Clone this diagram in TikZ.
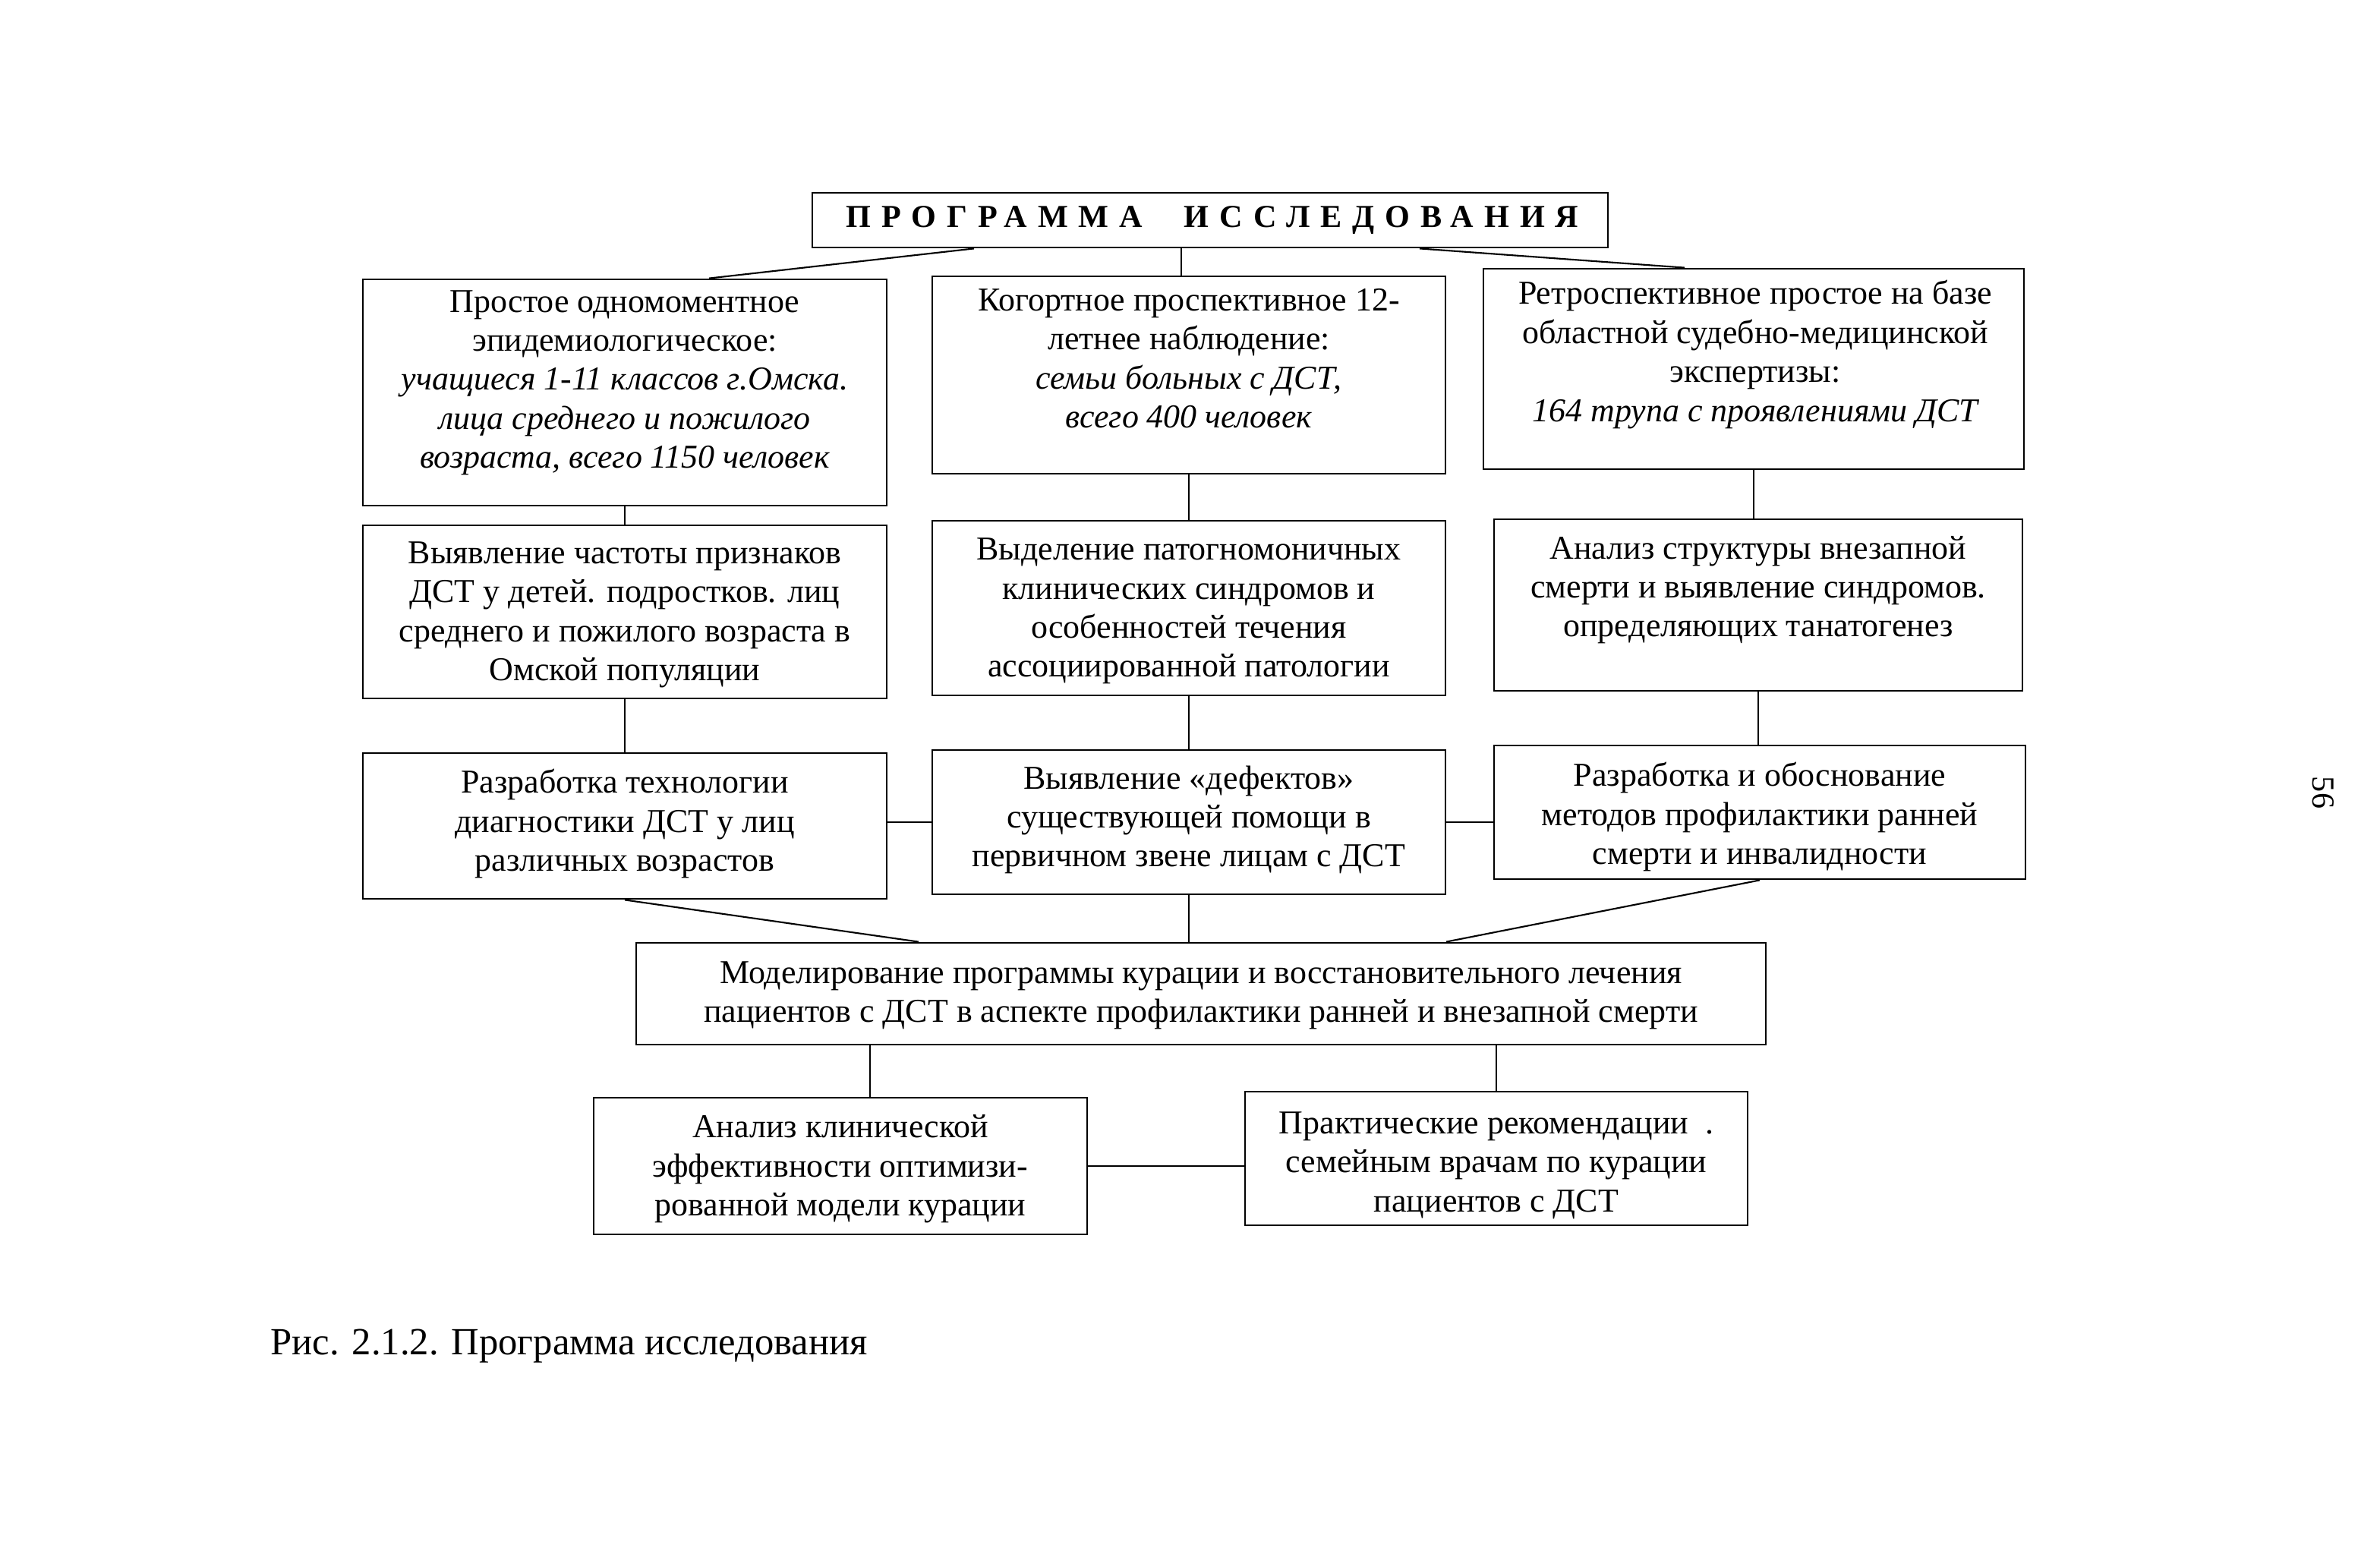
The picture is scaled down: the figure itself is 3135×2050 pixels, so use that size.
\documentclass[tikz,border=0pt]{standalone}
\usepackage{fontspec}
\setmainfont{Liberation Serif}
\usetikzlibrary{fit}
\begin{document}
\begin{tikzpicture}[x=0.01cm,y=-0.01cm,
  box/.style={draw, line width=0.8pt, inner sep=0pt, fit={#1}},
  txt/.style={align=center, font=\fontsize{12.5}{14.6}\selectfont, inner sep=0pt},
  conn/.style={line width=0.6pt}]
\path[use as bounding box] (0,0) rectangle (3135,2050);

% title
\node[box={(1070,254) (2118,326)}] (T) {};
\node[font=\fontsize{12}{14}\selectfont\bfseries\addfontfeatures{LetterSpace=33}, inner sep=0pt] (Tt) at (1597,290) {ПРОГРАММА\hspace{1.3em}ИССЛЕДОВАНИЯ};

% row 1
\node[box={(478,368) (1168,666)}] (A1) {};
\node[txt] (A1t) at (823,504) {Простое одномоментное\\эпидемиологическое:\\\itshape учащиеся 1-11 классов г.Омска.\\\itshape лица среднего и пожилого\\\itshape возраста, всего 1150 человек};
\node[box={(1228,364) (1904,624)}] (B1) {};
\node[txt] (B1t) at (1566,472) {Когортное проспективное 12-\\летнее наблюдение:\\\itshape семьи больных с ДСТ,\\\itshape всего 400 человек};
\node[box={(1954,354) (2666,618)}] (C1) {};
\node[txt] (C1t) at (2312,467) {Ретроспективное простое на базе\\областной судебно-медицинской\\экспертизы:\\\itshape 164 трупа с проявлениями ДСТ};

% row 2
\node[box={(478,692) (1168,920)}] (A2) {};
\node[txt] (A2t) at (823,810) {Выявление частоты признаков\\ДСТ у детей. подростков. лиц\\среднего и пожилого возраста в\\Омской популяции};
\node[box={(1228,686) (1904,916)}] (B2) {};
\node[txt] (B2t) at (1566,805) {Выделение патогномоничных\\клинических синдромов и\\особенностей течения\\ассоциированной патологии};
\node[box={(1968,684) (2664,910)}] (C2) {};
\node[txt] (C2t) at (2316,777) {Анализ структуры внезапной\\смерти и выявление синдромов.\\определяющих танатогенез};

% row 3
\node[box={(478,992) (1168,1184)}] (A3) {};
\node[txt] (A3t) at (823,1085) {Разработка технологии\\диагностики ДСТ у лиц\\различных возрастов};
\node[box={(1228,988) (1904,1178)}] (B3) {};
\node[txt] (B3t) at (1566,1080) {Выявление «дефектов»\\существующей помощи в\\первичном звене лицам с ДСТ};
\node[box={(1968,982) (2668,1158)}] (C3) {};
\node[txt] (C3t) at (2318,1076) {Разработка и обоснование\\методов профилактики ранней\\смерти и инвалидности};

% row 4
\node[box={(838,1242) (2326,1376)}] (M) {};
\node[txt] (Mt) at (1582,1311) {Моделирование программы курации и восстановительного лечения\\пациентов с ДСТ в аспекте профилактики ранней и внезапной смерти};

% row 5
\node[box={(782,1446) (1432,1626)}] (L) {};
\node[txt] (Lt) at (1107,1540) {Анализ клинической\\эффективности оптимизи-\\рованной модели курации};
\node[box={(1640,1438) (2302,1614)}] (R) {};
\node[txt] (Rt) at (1971,1535) {Практические рекомендации\ \ .\\семейным врачам по курации\\пациентов с ДСТ};

% caption and page number
\node[anchor=base west, inner sep=0pt, font=\fontsize{14.4}{17}\selectfont] (cap) at (356,1784) {Рис. 2.1.2. Программа исследования};
\node[rotate=-90, inner sep=0pt, font=\fontsize{12}{14}\selectfont] (pg) at (3060,1044) {56};

% helper x positions
\coordinate (xt1) at (1283,0);
\coordinate (xa1) at (934,0);
\coordinate (xtb) at (1556,0);
\coordinate (xt3) at (1870,0);
\coordinate (xc1) at (2219,0);
\coordinate (xm1) at (1210,0);
\coordinate (xm2) at (1905,0);
\coordinate (xml) at (1146,0);

% connectors
\draw[conn] (xt1 |- T.south) -- (xa1 |- A1.north);
\draw[conn] (xtb |- T.south) -- (xtb |- B1.north);
\draw[conn] (xt3 |- T.south) -- (xc1 |- C1.north);
\draw[conn] (A1.south) -- (A2.north);
\draw[conn] (B1.south) -- (B2.north);
\draw[conn] (C1.south) -- (C1.south |- C2.north);
\draw[conn] (A2.south) -- (A3.north);
\draw[conn] (B2.south) -- (B3.north);
\draw[conn] (C2.south) -- (C2.south |- C3.north);
\draw[conn] (B3.west -| A3.east) -- (B3.west);
\draw[conn] (B3.east) -- (B3.east -| C3.west);
\draw[conn] (A3.south) -- (xm1 |- M.north);
\draw[conn] (B3.south) -- (B3.south |- M.north);
\draw[conn] (C3.south) -- (xm2 |- M.north);
\draw[conn] (xml |- M.south) -- (xml |- L.north);
\draw[conn] (R.north |- M.south) -- (R.north);
\draw[conn] (L.east) -- (L.east -| R.west);
\end{tikzpicture}
\end{document}
